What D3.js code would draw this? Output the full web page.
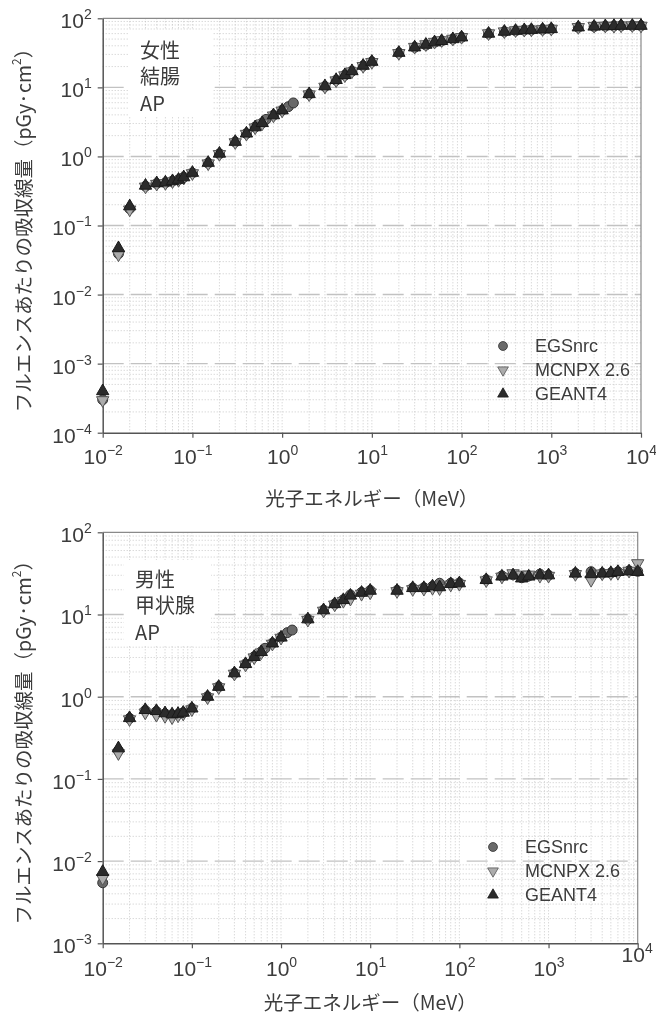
<!DOCTYPE html>
<html>
<head>
<meta charset="utf-8">
<script src="https://cdn.jsdelivr.net/npm/d3@7"></script>
<style>
  body { margin: 0; background: #fff; }
  svg { display: block; will-change: transform; }
</style>
</head>
<body>
<svg id="chart" width="656" height="1014"></svg>
<script>
// Photon energies (MeV) shared by MCNPX 2.6 and GEANT4
const energies = [0.01, 0.015, 0.02, 0.03, 0.04, 0.05, 0.06, 0.07, 0.08, 0.1, 0.15, 0.2, 0.3, 0.4, 0.5, 0.6, 0.8, 1,
  2, 3, 4, 5, 6, 8, 10, 20, 30, 40, 50, 60, 80, 100, 200, 300, 400, 500, 600, 800, 1000,
  2000, 3000, 4000, 5000, 6000, 8000, 10000];
// EGSnrc also includes 0.662, 1.173 and 1.333 MeV
const egsEnergies = [0.01, 0.015, 0.02, 0.03, 0.04, 0.05, 0.06, 0.07, 0.08, 0.1, 0.15, 0.2, 0.3, 0.4, 0.5, 0.6, 0.662, 0.8, 1,
  1.173, 1.333, 2, 3, 4, 5, 6, 8, 10, 20, 30, 40, 50, 60, 80, 100, 200, 300, 400, 500, 600, 800, 1000,
  2000, 3000, 4000, 5000, 6000, 8000, 10000];

// Female colon, AP (pGy·cm²)
const colonEGS = [3.0e-4, 0.039, 0.175, 0.37, 0.405, 0.415, 0.44, 0.46, 0.50, 0.575, 0.80, 1.09, 1.62, 2.14, 2.66, 3.05, 3.44, 3.95, 4.65,
  5.25, 5.95, 7.95, 10.3, 12.7, 15.0, 17.1, 20.5, 23.4, 31.5, 38, 41, 45, 47, 50, 53, 60, 64, 66, 67.5, 68, 69, 70,
  74, 76, 77, 77.5, 78, 78, 78];
const colonMCNPX = [2.95e-4, 0.038, 0.17, 0.365, 0.40, 0.41, 0.435, 0.455, 0.49, 0.57, 0.79, 1.08, 1.60, 2.12, 2.62, 3.0, 3.9, 4.6,
  7.9, 10.2, 12.6, 14.9, 17.0, 20.3, 23.2, 31.3, 38.5, 42, 45.5, 48, 50.5, 53.5, 60.5, 64.5, 67, 68, 68.5, 69.5, 70.5,
  74.5, 77.5, 78, 77.5, 78.5, 79, 78];
const colonGEANT4 = [4.0e-4, 0.047, 0.19, 0.378, 0.41, 0.42, 0.44, 0.46, 0.50, 0.58, 0.81, 1.10, 1.63, 2.15, 2.65, 3.05, 3.95, 4.65,
  8.0, 10.4, 12.8, 15.1, 17.2, 20.6, 23.5, 31.7, 38, 41.5, 45, 47, 50, 53, 60, 64, 66, 67.5, 68, 69, 70,
  74, 76, 77, 77.5, 78, 78, 78];

// Male thyroid, AP (pGy·cm²)
const thyroidEGS = [5.45e-3, 0.22, 0.545, 0.68, 0.66, 0.62, 0.60, 0.61, 0.64, 0.72, 1.0, 1.32, 1.93, 2.5, 3.07, 3.52, 3.88, 4.47, 5.28,
  6.01, 6.47, 8.75, 11.3, 13.4, 15.1, 17.3, 18.6, 19.6, 19.6, 21, 21.2, 22, 24, 24, 24.2, 26.5, 29.5, 30.5, 28, 29.5, 31, 30,
  31.7, 33.2, 31.7, 32, 33, 34, 33.5];
const thyroidMCNPX = [6.2e-3, 0.205, 0.53, 0.64, 0.60, 0.58, 0.56, 0.59, 0.62, 0.70, 0.98, 1.30, 1.90, 2.45, 3.0, 3.45, 4.4, 5.2,
  8.6, 11.1, 13.2, 14.6, 15.5, 17.8, 18.5, 19.2, 20.3, 20.5, 21, 20.8, 23, 23.5, 26, 28.8, 31.7, 30.5, 30.5, 29.5, 29.5,
  31, 26.3, 31.5, 31.8, 32, 34, 42];
const thyroidGEANT4 = [7.4e-3, 0.236, 0.55, 0.69, 0.67, 0.63, 0.61, 0.62, 0.64, 0.72, 1.0, 1.32, 1.93, 2.5, 3.05, 3.5, 4.45, 5.25,
  8.75, 11.3, 13.4, 15.0, 17.0, 18.4, 19.5, 19.5, 21, 21, 22, 21.5, 23.5, 24, 26.3, 29, 30, 27.5, 29, 30, 30,
  31.5, 31, 31.5, 32, 33, 33.5, 33];

// Tick exponents (labels are drawn as 10^n)
const xTickExponents = [-2, -1, 0, 1, 2, 3, 4];
const colonYTickExponents = [-4, -3, -2, -1, 0, 1, 2];
const thyroidYTickExponents = [-3, -2, -1, 0, 1, 2];

const seriesNames = ["EGSnrc", "MCNPX 2.6", "GEANT4"];
const colonLabel = ["女性", "結腸", "AP"];
const thyroidLabel = ["男性", "甲状腺", "AP"];
const xTitle = "光子エネルギー（MeV）";
const yTitleMain = "フルエンスあたりの吸収線量（pGy·cm";

const svg = d3.select("#chart");
const latin = "'Liberation Sans', Arial, sans-serif";
const cjk = "'Noto Sans CJK JP', 'Noto Sans', sans-serif";
const textColor = "#3c3c3c";

const markerStyles = [
  { shape: d3.symbolCircle, rotate: 0, fill: "#6a6a6a", stroke: "#333" },
  { shape: d3.symbolTriangle, rotate: 180, fill: "#ababab", stroke: "#555" },
  { shape: d3.symbolTriangle, rotate: 0, fill: "#2b2b2b", stroke: "#1a1a1a" }
];

function sup(exp) {
  return exp < 0 ? "\u2212" + Math.abs(exp) : String(exp);
}

function drawPanel(p) {
  const x = d3.scaleLog().domain([1e-2, 1e4]).range([p.left, p.right]);
  const y = d3.scaleLog().domain([10 ** p.yExps[0], 10 ** p.yExps[p.yExps.length - 1]]).range([p.bottom, p.top]);
  const g = svg.append("g");

  // minor grid (dotted)
  const minorX = [], minorY = [];
  for (let e = -2; e < 4; e++) for (let k = 2; k <= 9; k++) minorX.push(k * 10 ** e);
  for (let e = p.yExps[0]; e < p.yExps[p.yExps.length - 1]; e++) for (let k = 2; k <= 9; k++) minorY.push(k * 10 ** e);
  const dotted = { stroke: "#c4c4c4", width: 0.9, dash: "1,2" };
  g.append("g").selectAll("line").data(minorX.concat(xTickExponents.slice(1, -1).map(e => 10 ** e))).join("line")
    .attr("x1", d => x(d)).attr("x2", d => x(d)).attr("y1", p.top).attr("y2", p.bottom)
    .attr("stroke", dotted.stroke).attr("stroke-width", dotted.width).attr("stroke-dasharray", dotted.dash);
  g.append("g").selectAll("line").data(minorY).join("line")
    .attr("x1", p.left).attr("x2", p.right).attr("y1", d => y(d)).attr("y2", d => y(d))
    .attr("stroke", dotted.stroke).attr("stroke-width", dotted.width).attr("stroke-dasharray", dotted.dash);

  // major horizontal grid (dashed)
  g.append("g").selectAll("line").data(p.yExps.slice(1, -1).map(e => 10 ** e)).join("line")
    .attr("x1", p.left).attr("x2", p.right).attr("y1", d => y(d)).attr("y2", d => y(d))
    .attr("stroke", "#c2c2c2").attr("stroke-width", 1.4).attr("stroke-dasharray", "21,7");

  // frame (top/right)
  g.append("path")
    .attr("d", `M${p.left},${p.top}H${p.right}V${p.bottom}`)
    .attr("fill", "none").attr("stroke", "#8a8a8a").attr("stroke-width", 1.2);

  // text annotation with white box
  g.append("rect").attr("x", p.box[0]).attr("y", p.box[1]).attr("width", p.box[2]).attr("height", p.box[3]).attr("fill", "#fff");
  g.append("g").selectAll("text").data(p.label).join("text")
    .attr("x", p.labelX).attr("y", (d, i) => p.labelY + i * 26.5)
    .attr("dominant-baseline", "central")
    .attr("font-family", cjk).attr("font-size", 20).attr("fill", textColor)
    .text(d => d);

  // axes
  const xAxis = d3.axisBottom(x).tickValues(xTickExponents.map(e => 10 ** e)).tickSize(5).tickSizeOuter(0).tickPadding(p.xPad);
  const yAxis = d3.axisLeft(y).tickValues(p.yExps.map(e => 10 ** e)).tickSize(5).tickSizeOuter(0).tickPadding(6);

  const gx = g.append("g").attr("transform", `translate(0,${p.bottom})`).call(xAxis);
  const gy = g.append("g").attr("transform", `translate(${p.left},0)`).call(yAxis);
  [gx, gy].forEach(ax => {
    ax.select(".domain").attr("stroke", "#555").attr("stroke-width", 1.5);
    ax.selectAll(".tick line").attr("stroke", "#555").attr("stroke-width", 1.2);
    ax.selectAll(".tick text").attr("font-family", latin).attr("font-size", 21).attr("fill", textColor);
  });
  gx.selectAll(".tick text").each(function (d) {
    const t = d3.select(this);
    const exp = Math.round(Math.log10(d));
    t.text(null);
    t.append("tspan").text("10");
    t.append("tspan").attr("dy", -9).attr("font-size", 14).text(sup(exp));
    if (p.raiseLast && exp === 4) t.attr("transform", "translate(-1,-14)");
  });
  gy.selectAll(".tick text").attr("dy", "0.45em").each(function (d) {
    const t = d3.select(this);
    const exp = Math.round(Math.log10(d));
    t.text(null);
    t.append("tspan").text("10");
    t.append("tspan").attr("dy", -9).attr("font-size", 14).text(sup(exp));
  });

  // axis titles
  g.append("text")
    .attr("x", (p.left + p.right) / 2).attr("y", p.xTitleY)
    .attr("text-anchor", "middle").attr("dominant-baseline", "central")
    .attr("font-family", cjk).attr("font-size", 19.5).attr("fill", textColor)
    .text(xTitle);
  const yt = g.append("text")
    .attr("transform", `translate(22,${(p.top + p.bottom) / 2}) rotate(-90)`)
    .attr("text-anchor", "middle").attr("dominant-baseline", "central")
    .attr("font-family", cjk).attr("font-size", 19.5).attr("fill", textColor);
  yt.append("tspan").text(yTitleMain);
  yt.append("tspan").attr("dy", -7).attr("font-size", 12).text("2");
  yt.append("tspan").attr("dy", 7).text("）");

  // data markers
  const series = [
    { xs: egsEnergies, ys: p.data[0] },
    { xs: energies, ys: p.data[1] },
    { xs: energies, ys: p.data[2] }
  ];
  series.forEach((s, i) => {
    const st = markerStyles[i];
    const sym = d3.symbol().type(st.shape).size(i === 0 ? 78 : 66);
    g.append("g").selectAll("path").data(s.xs.map((e, j) => [e, s.ys[j]])).join("path")
      .attr("d", sym)
      .attr("transform", d => `translate(${x(d[0])},${y(d[1])}) rotate(${st.rotate})`)
      .attr("fill", st.fill).attr("stroke", st.stroke).attr("stroke-width", 1);
  });

  // legend
  const lg = g.append("g");
  seriesNames.forEach((name, i) => {
    const st = markerStyles[i];
    const yy = p.legendY + i * p.legendStep;
    lg.append("path")
      .attr("d", d3.symbol().type(st.shape).size(i === 0 ? 62 : 50))
      .attr("transform", `translate(${p.legendX},${yy}) rotate(${st.rotate})`)
      .attr("fill", st.fill).attr("stroke", st.stroke).attr("stroke-width", 0.8);
    lg.append("text")
      .attr("x", p.legendX + 32).attr("y", yy)
      .attr("dominant-baseline", "central")
      .attr("font-family", latin).attr("font-size", 18).attr("fill", textColor)
      .text(name);
  });
}

drawPanel({
  left: 102.7, right: 641, top: 18.3, bottom: 432.7,
  yExps: colonYTickExponents,
  data: [colonEGS, colonMCNPX, colonGEANT4],
  label: colonLabel, labelX: 140, labelY: 49,
  box: [128, 30, 84, 86],
  legendX: 503, legendY: 346, legendStep: 24,
  xPad: 11, xTitleY: 497, raiseLast: false
});

drawPanel({
  left: 102.7, right: 637.7, top: 532.3, bottom: 943.3,
  yExps: thyroidYTickExponents,
  data: [thyroidEGS, thyroidMCNPX, thyroidGEANT4],
  label: thyroidLabel, labelX: 135, labelY: 578,
  box: [124, 560, 87, 86],
  legendX: 493, legendY: 847, legendStep: 24,
  xPad: 13, xTitleY: 1001, raiseLast: true
});
</script>
</body>
</html>
